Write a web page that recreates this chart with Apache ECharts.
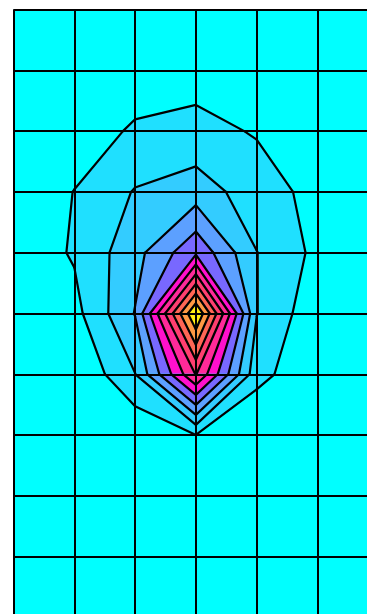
<!DOCTYPE html>
<html>
<head>
<meta charset="utf-8">
<script src="https://cdn.jsdelivr.net/npm/echarts@6/dist/echarts.min.js"></script>
<style>
  html, body { margin: 0; padding: 0; background: #ffffff; }
  #chart { width: 367px; height: 614px; }
</style>
</head>
<body>
<div id="chart"></div>
<script>
// Mesh node positions (columns and rows)
const xNodes = [0, 1, 2, 3, 4, 5, 6];
const yNodes = [0, 1, 2, 3, 4, 5, 6, 7, 8, 9, 10];

// Field values at the mesh nodes, one array per mesh row, top to bottom
const row0  = [0.10, 0.15, 0.30, 0.35, 0.30, 0.15, 0.10];
const row1  = [0.15, 0.25, 0.50, 0.59, 0.45, 0.20, 0.10];
const row2  = [0.20, 0.52, 1.12, 1.31, 0.92, 0.30, 0.10];
const row3  = [0.30, 1.02, 2.07, 2.50, 1.49, 0.67, 0.20];
const row4  = [0.30, 1.105, 2.65, 4.80, 2.02, 0.75, 0.20];
const row5  = [0.20, 0.67, 3.05, 11.05, 2.03, 0.28, 0.10];
const row6  = [0.05, 0.00, 1.98, 7.05, 1.33, 0.20, 0.05];
const row7  = [0.00, 0.00, 0.11, 0.98, 0.00, 0.00, 0.00];
const row8  = [0.00, 0.00, 0.00, 0.30, 0.00, 0.00, 0.00];
const row9  = [0.00, 0.00, 0.00, 0.00, 0.00, 0.00, 0.00];
const row10 = [0.00, 0.00, 0.00, 0.00, 0.00, 0.00, 0.00];
const field = [row0, row1, row2, row3, row4, row5, row6, row7, row8, row9, row10];

// Contour levels and the fill of each band (below first level, then above each level)
const levels = [1, 2, 3, 4, 5, 6, 7, 8, 9, 10];
const bandColors = ['#00ffff', '#1fe0ff', '#33ccff', '#5ca0ff', '#7868ff',
                    '#ff10cc', '#ff2a99', '#ff3f70', '#ff6655', '#ff9944', '#ffee11'];

// One item per mesh cell: indices of its top-left node
const cells = [];
for (let j = 0; j < yNodes.length - 1; j++) {
  for (let i = 0; i < xNodes.length - 1; i++) cells.push([i, j]);
}

// Region of a cell where the field is >= L, with edge values linearly interpolated.
function cellCut(vals, pts, L) {
  const poly = [];
  const cross = [];
  for (let k = 0; k < 4; k++) {
    const a = vals[k], b = vals[(k + 1) % 4];
    const pa = pts[k], pb = pts[(k + 1) % 4];
    const ina = a >= L, inb = b >= L;
    if (ina) poly.push(pa);
    if (ina !== inb) {
      const t = (L - a) / (b - a);
      const p = [pa[0] + t * (pb[0] - pa[0]), pa[1] + t * (pb[1] - pa[1])];
      poly.push(p);
      cross.push({ p: p, exit: ina });
    }
  }
  const segs = [];
  for (let m = 0; m < cross.length; m++) {
    if (cross[m].exit) segs.push([cross[m].p, cross[(m + 1) % cross.length].p]);
  }
  return { poly: poly, segs: segs };
}

function cellGeometry(api) {
  const i = api.value(0), j = api.value(1);
  const vals = [field[j][i], field[j][i + 1], field[j + 1][i + 1], field[j + 1][i]];
  const pts = [
    api.coord([xNodes[i], yNodes[j]]),
    api.coord([xNodes[i + 1], yNodes[j]]),
    api.coord([xNodes[i + 1], yNodes[j + 1]]),
    api.coord([xNodes[i], yNodes[j + 1]])
  ];
  return { vals: vals, pts: pts };
}

function renderBands(params, api) {
  const g = cellGeometry(api);
  const children = [];
  levels.forEach(function (L, k) {
    const cut = cellCut(g.vals, g.pts, L);
    if (cut.poly.length >= 3) {
      children.push({
        type: 'polygon',
        shape: { points: cut.poly },
        style: { fill: bandColors[k + 1], stroke: bandColors[k + 1], lineWidth: 0.6 }
      });
    }
  });
  return { type: 'group', children: children };
}

function renderLines(params, api) {
  const g = cellGeometry(api);
  const children = [];
  levels.forEach(function (L) {
    const cut = cellCut(g.vals, g.pts, L);
    cut.segs.forEach(function (s) {
      children.push({
        type: 'line',
        shape: { x1: s[0][0], y1: s[0][1], x2: s[1][0], y2: s[1][1] },
        style: { stroke: '#000000', lineWidth: 2.2, lineCap: 'round' }
      });
    });
  });
  return { type: 'group', children: children };
}

const meshAxis = {
  type: 'value',
  interval: 1,
  axisLine: { show: false },
  axisTick: { show: false },
  axisLabel: { show: false },
  splitLine: { show: true, lineStyle: { color: '#000000', width: 2 } },
  z: 10
};

const chart = echarts.init(document.getElementById('chart'), null, { renderer: 'canvas' });
chart.setOption({
  animation: false,
  backgroundColor: '#ffffff',
  grid: {
    left: 13.5, top: 9.5, width: 364.8, height: 608,
    outerBoundsMode: 'none', containLabel: false,
    show: true, backgroundColor: bandColors[0], borderWidth: 0
  },
  xAxis: Object.assign({}, meshAxis, { min: xNodes[0], max: xNodes[xNodes.length - 1] }),
  yAxis: Object.assign({}, meshAxis, { min: yNodes[0], max: yNodes[yNodes.length - 1], inverse: true }),
  series: [
    { type: 'custom', data: cells, renderItem: renderBands, silent: true, clip: false, z: 2 },
    { type: 'custom', data: cells, renderItem: renderLines, silent: true, clip: false, z: 3 }
  ]
});
</script>
</body>
</html>
